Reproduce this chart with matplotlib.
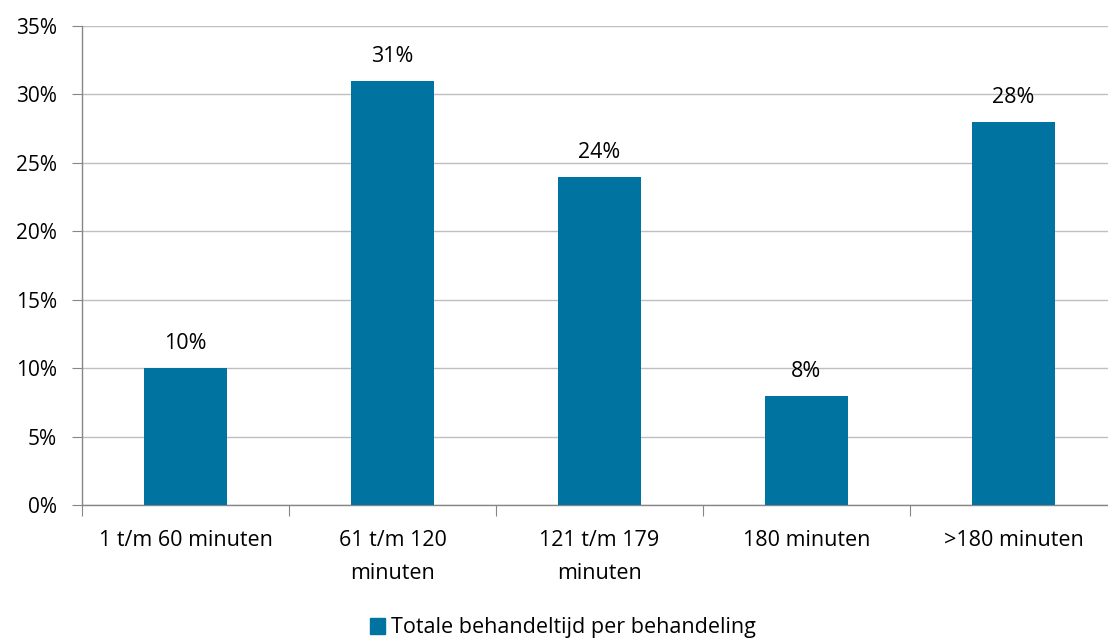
import matplotlib
matplotlib.use("Agg")
import matplotlib.pyplot as plt
from matplotlib.ticker import FuncFormatter, MultipleLocator
from matplotlib.patches import Patch

categories = ["1 t/m 60 minuten", "61 t/m 120\nminuten", "121 t/m 179\nminuten", "180 minuten", ">180 minuten"]
values = [10, 31, 24, 8, 28]
series_name = "Totale behandeltijd per behandeling"

plt.rcParams['font.family'] = ['Open Sans', 'DejaVu Sans']
color = "#0073A0"
grid_c = "#BFBFBF"
axis_c = "#868686"

fig = plt.figure(figsize=(11.08, 6.39), dpi=100)
ax = fig.add_axes([82/1108, 1-505/639, 1035/1108, (505-26)/639])
x = list(range(len(categories)))
bars = ax.bar(x, values, width=0.4, color=color, zorder=3)
ax.set_xlim(-0.5, len(categories)-0.5)
ax.set_ylim(0, 35)
ax.yaxis.set_major_locator(MultipleLocator(5))
ax.yaxis.set_major_formatter(FuncFormatter(lambda v, p: f"{int(v)}%"))
ax.grid(axis='y', color=grid_c, linewidth=1, zorder=0)
for s in ['top', 'right']:
    ax.spines[s].set_visible(False)
for s in ['left', 'bottom']:
    ax.spines[s].set_color(axis_c)
    ax.spines[s].set_linewidth(1)
ax.set_xticks([i+0.5 for i in range(len(categories)-1)] + [-0.5], minor=False)
ax.set_xticklabels([])
ax.set_xticks(x, minor=True)
ax.set_xticklabels(categories, minor=True, fontsize=15.5, linespacing=1.75)
ax.tick_params(axis='x', which='major', length=8, color=axis_c, direction='out')
ax.tick_params(axis='x', which='minor', length=0, pad=18)
ax.tick_params(axis='y', length=7, color=axis_c, labelsize=15, pad=11)
for xi, v in zip(x, values):
    ax.annotate(f"{v}%", (xi, v), xytext=(0, 10), textcoords='offset points',
                ha='center', va='bottom', fontsize=15.5)
fig.legend(handles=[Patch(color=color, label=series_name)], loc='center',
           bbox_to_anchor=(563/1108, 1-628/639), frameon=False, fontsize=15.5,
           handlelength=0.7, handleheight=0.7, handletextpad=0.3)
fig.savefig("out.png", dpi=100)
